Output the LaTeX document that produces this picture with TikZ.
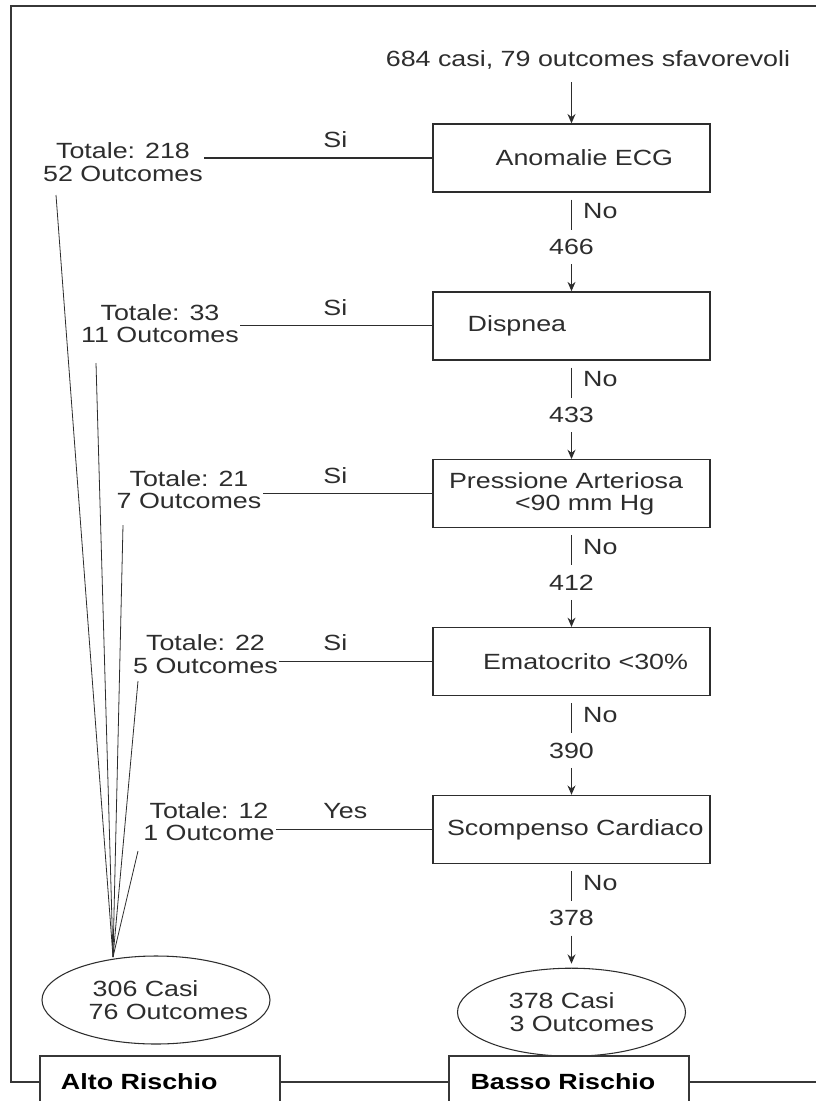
\documentclass[tikz,border=0pt]{standalone}
\usepackage{fontspec}
\setmainfont{Liberation Sans}[FakeStretch=1.22]
\usepackage{tikz}
\usetikzlibrary{positioning,shapes.geometric,arrows.meta}
\definecolor{ink}{RGB}{45,45,45}
\definecolor{cornice}{RGB}{55,55,55}
\newcommand{\testo}{\fontsize{16.5pt}{17pt}\selectfont}

\begin{document}
\begin{tikzpicture}[x=0.75pt,y=-0.75pt,
  every node/.style={text=ink, font=\testo},
  domanda/.style={draw=ink, line width=1pt, minimum width=207.75pt, minimum height=51pt, text width=207.75pt, inner xsep=0pt, align=left},
  conta/.style={minimum height=25.5pt, inner sep=0pt},
  esito/.style={ellipse, draw=ink, line width=0.8pt, minimum width=171pt, minimum height=66pt, text width=140pt, align=left, inner xsep=-15pt, inner ysep=0pt},
  gruppo/.style={draw=cornice, line width=1.5pt, minimum width=180pt, minimum height=39pt, text width=180pt, inner xsep=0pt, align=left, text=black, font=\testo\bfseries},
  totale/.style={align=center, inner sep=1pt},
  silab/.style={anchor=base, yshift=8pt},
  nolab/.style={midway, right=5pt},
  ramo/.style={draw=ink, line width=0.9pt},
  arr/.style={ramo, -{Stealth[length=7pt,width=6pt]}},
  rahmen/.style={draw=cornice, line width=1.5pt}]
\clip (0,0) rectangle (816,1101);

\node (start) at (588,60) {684 casi, 79 outcomes sfavorevoli};
\node[domanda] (ecg) at (571.5,158) {\hspace*{47pt}Anomalie ECG};
\node[conta, below=27.75pt of ecg] (n466) {466};
\node[domanda, below=20.25pt of n466] (dispnea) {\hspace*{26pt}Dispnea};
\node[conta, below=27.75pt of dispnea] (n433) {433};
\node[domanda, below=20.25pt of n433] (pressione) {\hspace*{12pt}Pressione Arteriosa\\\hspace*{61.5pt}<90 mm Hg};
\node[conta, below=27.75pt of pressione] (n412) {412};
\node[domanda, below=20.25pt of n412] (ematocrito) {\hspace*{37.5pt}Ematocrito <30\%};
\node[conta, below=27.75pt of ematocrito] (n390) {390};
\node[domanda, below=20.25pt of n390] (scompenso) {\hspace*{10.5pt}Scompenso Cardiaco};
\node[conta, below=27.75pt of scompenso] (n378) {378};
\node[esito, below=24pt of n378] (esB) {\hspace*{23pt}378 Casi\\\hspace*{23.5pt}3 Outcomes};
\node[esito] (esA) at (156,1000) {\hspace*{22.5pt}306 Casi\\\hspace*{19.5pt}76 Outcomes};

\node[totale] (tot1) at (123,162) {Totale: 218\\52 Outcomes};
\node[totale] (tot2) at (160,323.5) {Totale: 33\\11 Outcomes};
\node[totale] (tot3) at (189,489.5) {Totale: 21\\7 Outcomes};
\node[totale] (tot4) at (205.5,654) {Totale: 22\\5 Outcomes};
\node[totale] (tot5) at (209,821.5) {Totale: 12\\1 Outcome};

\node[gruppo] (alto) at (160,1082) {\hspace*{15.75pt}Alto Rischio};
\node[gruppo] (basso) at (568.5,1082) {\hspace*{16.5pt}Basso Rischio};

\coordinate (tl) at (11,6);
\coordinate (tr) at (830,6);
\coordinate (br) at (830,1082);
\coordinate (meet) at (113,957);
\coordinate (p1) at (56,195);
\coordinate (p2) at (96,363);
\coordinate (p3) at (123,525);
\coordinate (p4) at (138,681);
\coordinate (p5) at (138,851);

\draw[arr, shorten <=6pt] (start.south -| ecg.north) -- (ecg.north);
\draw[ramo, shorten <=5.25pt] (ecg.south) -- node[nolab]{No} (n466.north);
\draw[arr] (n466) -- (dispnea);
\draw[ramo, shorten <=5.25pt] (dispnea.south) -- node[nolab]{No} (n433.north);
\draw[arr] (n433) -- (pressione);
\draw[ramo, shorten <=5.25pt] (pressione.south) -- node[nolab]{No} (n412.north);
\draw[arr] (n412) -- (ematocrito);
\draw[ramo, shorten <=5.25pt] (ematocrito.south) -- node[nolab]{No} (n390.north);
\draw[arr] (n390) -- (scompenso);
\draw[ramo, shorten <=5.25pt] (scompenso.south) -- node[nolab]{No} (n378.north);
\draw[arr, shorten >=3pt] (n378) -- (esB);

\draw[ramo] (ecg.west) -- node[silab, at start, xshift=-72.75pt]{Si} (ecg.west -| tot1.east);
\draw[ramo] (dispnea.west) -- node[silab, at start, xshift=-72.75pt]{Si} (dispnea.west -| tot2.east);
\draw[ramo] (pressione.west) -- node[silab, at start, xshift=-72.75pt]{Si} (pressione.west -| tot3.east);
\draw[ramo] (ematocrito.west) -- node[silab, at start, xshift=-72.75pt]{Si} (ematocrito.west -| tot4.east);
\draw[ramo] (scompenso.west) -- node[silab, at start, xshift=-65.25pt]{Yes} (scompenso.west -| tot5.east);

\foreach \k in {1,...,5}
  \draw[ramo, line width=0.6pt] (p\k) -- (meet);

\draw[rahmen] (alto.west) -| (tl) -- (tr);
\draw[rahmen] (alto.east) -- (basso.west);
\draw[rahmen] (basso.east) -- (br);
\end{tikzpicture}
\end{document}
